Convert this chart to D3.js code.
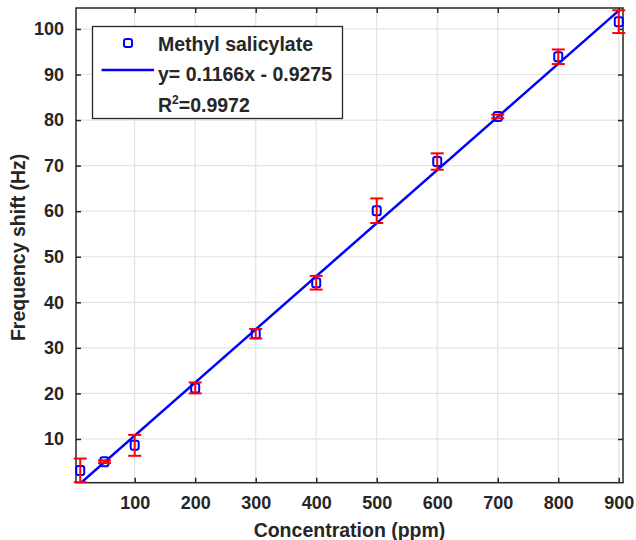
<!DOCTYPE html>
<html>
<head>
<meta charset="utf-8">
<script src="https://cdn.jsdelivr.net/npm/d3@7"></script>
<style>
  body { margin: 0; background: #fff; }
  svg text { font-family: "Liberation Sans", Arial, sans-serif; font-weight: bold; fill: #262626; }
</style>
</head>
<body>
<div id="app"></div>
<script>
// data
var concentration = [10, 50, 100, 200, 300, 400, 500, 600, 700, 800, 900];
var freqShift = [3.1, 5.0, 8.6, 21.2, 33.1, 44.3, 60.1, 70.9, 80.8, 93.9, 101.6];
var errBar = [2.6, 0.3, 2.3, 1.2, 1.05, 1.5, 2.7, 1.8, 0.4, 1.6, 2.5];
var xTicks = [100, 200, 300, 400, 500, 600, 700, 800, 900];
var yTicks = [10, 20, 30, 40, 50, 60, 70, 80, 90, 100];
var fitSlope = 0.1166, fitIntercept = -0.9275;
var legendLabels = ["Methyl salicylate", "y= 0.1166x - 0.9275", "0.9972"];

var width = 636, height = 540;
var margin = { top: 8, right: 13, bottom: 57.3, left: 76 };
var w = width - margin.left - margin.right,
  h = height - margin.top - margin.bottom;

var svg = d3.select("#app")
  .append("svg")
  .attr("width", width)
  .attr("height", height);

svg.append("clipPath")
  .attr("id", "plot-clip")
  .append("rect")
  .attr("width", w)
  .attr("height", h);

var g = svg.append("g")
  .attr("transform", "translate(" + margin.left + "," + margin.top + ")");

var x = d3.scaleLinear().domain([3, 907]).range([0, w]);
var y = d3.scaleLinear().domain([0.4, 104.6]).range([h, 0]);

// grid
g.append("g")
  .selectAll("line.gx")
  .data(xTicks)
  .enter()
  .append("line")
  .attr("x1", d => x(d)).attr("x2", d => x(d))
  .attr("y1", 0).attr("y2", h)
  .attr("stroke", "#e3e3e3").attr("stroke-width", 1.2);

g.append("g")
  .selectAll("line.gy")
  .data(yTicks)
  .enter()
  .append("line")
  .attr("y1", d => y(d)).attr("y2", d => y(d))
  .attr("x1", 0).attr("x2", w)
  .attr("stroke", "#e3e3e3").attr("stroke-width", 1.2);

// axes (ticks inward, box on)
var axisColor = "#262626";
function styleAxis(sel, showLabels) {
  sel.select(".domain").remove();
  sel.selectAll(".tick line").attr("stroke", axisColor).attr("stroke-width", 1.5);
  sel.selectAll(".tick text")
    .style("font-size", "18px")
    .attr("fill", showLabels ? axisColor : "none");
}

g.append("g")
  .attr("transform", "translate(0," + h + ")")
  .call(d3.axisBottom(x).tickValues(xTicks).tickSizeInner(-5).tickSizeOuter(0).tickPadding(14))
  .call(s => styleAxis(s, true));

g.append("g")
  .call(d3.axisTop(x).tickValues(xTicks).tickSizeInner(-5).tickSizeOuter(0).tickFormat(""))
  .call(s => styleAxis(s, false));

g.append("g")
  .call(d3.axisLeft(y).tickValues(yTicks).tickSizeInner(-5).tickSizeOuter(0).tickPadding(12))
  .call(s => styleAxis(s, true));

g.append("g")
  .attr("transform", "translate(" + w + ",0)")
  .call(d3.axisRight(y).tickValues(yTicks).tickSizeInner(-5).tickSizeOuter(0).tickFormat(""))
  .call(s => styleAxis(s, false));

g.append("rect")
  .attr("width", w).attr("height", h)
  .attr("fill", "none")
  .attr("stroke", axisColor)
  .attr("stroke-width", 1.5);

// fit line
var fitLine = d3.line()
  .x(d => x(d))
  .y(d => y(fitSlope * d + fitIntercept));

g.append("path")
  .datum([concentration[0], concentration[concentration.length - 1]])
  .attr("clip-path", "url(#plot-clip)")
  .attr("d", fitLine)
  .attr("stroke", "#0000ff")
  .attr("stroke-width", 2.5)
  .attr("fill", "none");

var pts = concentration.map((c, i) => ({ c: c, v: freqShift[i], e: errBar[i] }));

// markers
g.append("g")
  .selectAll("rect")
  .data(pts)
  .enter()
  .append("rect")
  .attr("x", d => x(d.c) - 4)
  .attr("y", d => y(d.v) - 4.5)
  .attr("width", 8)
  .attr("height", 9)
  .attr("rx", 2)
  .attr("fill", "none")
  .attr("stroke", "#0000ff")
  .attr("stroke-width", 2);

// error bars
var eb = g.append("g")
  .attr("stroke", "#ff0000")
  .attr("stroke-width", 2)
  .selectAll("g")
  .data(pts)
  .enter()
  .append("g");

eb.append("line")
  .attr("x1", d => x(d.c)).attr("x2", d => x(d.c))
  .attr("y1", d => y(d.v - d.e)).attr("y2", d => y(d.v + d.e));
eb.append("line")
  .attr("x1", d => x(d.c) - 6.5).attr("x2", d => x(d.c) + 6.5)
  .attr("y1", d => y(d.v - d.e)).attr("y2", d => y(d.v - d.e));
eb.append("line")
  .attr("x1", d => x(d.c) - 6.5).attr("x2", d => x(d.c) + 6.5)
  .attr("y1", d => y(d.v + d.e)).attr("y2", d => y(d.v + d.e));

// axis labels
svg.append("text")
  .attr("x", margin.left + w / 2)
  .attr("y", 537)
  .attr("text-anchor", "middle")
  .style("font-size", "19.5px")
  .text("Concentration (ppm)");

svg.append("text")
  .attr("transform", "translate(25," + (margin.top + h / 2 + 2) + ") rotate(-90)")
  .attr("text-anchor", "middle")
  .style("font-size", "19.5px")
  .text("Frequency shift (Hz)");

// legend
var lg = svg.append("g");
lg.append("rect")
  .attr("x", 92.5).attr("y", 26.5)
  .attr("width", 250).attr("height", 92)
  .attr("fill", "#fff")
  .attr("stroke", axisColor)
  .attr("stroke-width", 1.3);

lg.append("rect")
  .attr("x", 124).attr("y", 39)
  .attr("width", 8).attr("height", 8).attr("rx", 2)
  .attr("fill", "none").attr("stroke", "#0000ff").attr("stroke-width", 2);

lg.append("line")
  .attr("x1", 101.5).attr("x2", 154)
  .attr("y1", 70).attr("y2", 70)
  .attr("stroke", "#0000ff").attr("stroke-width", 2.5);

lg.append("text").attr("x", 158).attr("y", 50.5)
  .style("font-size", "19.5px").text(legendLabels[0]);
lg.append("text").attr("x", 158).attr("y", 81)
  .style("font-size", "19.5px").text(legendLabels[1]);

var r2 = lg.append("text").attr("x", 158).attr("y", 111.5).style("font-size", "19.5px");
r2.append("tspan").text("R");
r2.append("tspan").attr("dy", -8).style("font-size", "12px").text("2");
r2.append("tspan").attr("dy", 8).text("=" + legendLabels[2]);
</script>
</body>
</html>
